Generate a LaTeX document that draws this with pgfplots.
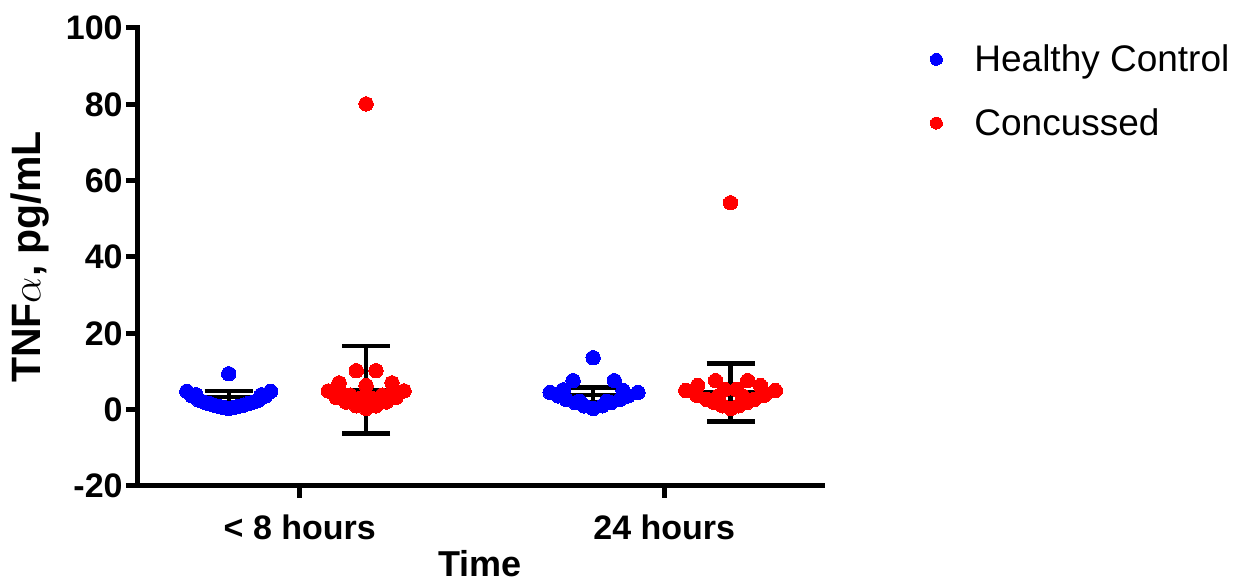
\documentclass[border=0pt]{standalone}
\usepackage{pgfplots}
\pgfplotsset{compat=1.18}
\usepackage{fontspec}
\setmainfont{Liberation Sans}
\definecolor{hcblue}{RGB}{0,0,255}
\definecolor{ccred}{RGB}{255,0,0}
\begin{document}
\begin{tikzpicture}
\useasboundingbox (-69pt,-48pt) rectangle (550pt,243pt);
\begin{axis}[
  at={(0pt,0pt)}, anchor=south west,
  scale only axis, width=342pt, height=229pt,
  xmin=0.556, xmax=2.433, ymin=-20, ymax=100,
  axis x line=bottom, axis y line=left,
  axis line style={-, line width=2.5pt, line cap=rect},
  ytick={-20,0,20,40,60,80,100},
  xtick={1,2}, xticklabels={{< 8 hours},{24 hours}},
  minor tick num=0,
  tick align=outside, major tick length=6pt,
  tick style={black, line width=2.5pt},
  /pgf/number format/assume math mode=true,
  tick label style={font=\fontsize{17}{20}\selectfont\bfseries},
  yticklabel style={inner sep=1.5pt},
  xticklabel style={inner sep=0pt, yshift=-8pt},
  xlabel={Time}, ylabel={TNF$\alpha$, pg/mL},
  label style={font=\fontsize{18}{21}\selectfont\bfseries},
  xlabel style={at={(axis description cs:0.5,0)}, anchor=center, inner sep=0pt, yshift=-39pt},
  ylabel style={at={(axis description cs:-0.158,0.5)}, anchor=center, font=\fontsize{20.5}{24}\selectfont\bfseries},
  legend style={draw=none, fill=none, at={(axis description cs:1,1)}, anchor=north west,
    xshift=53pt, yshift=-6pt, inner sep=0pt, nodes={inner sep=2pt},
    font=\fontsize{18.5}{21}\selectfont, row sep=13pt},
  legend cell align=left,
  legend image code/.code={\draw[#1, only marks, mark size=3pt] plot coordinates {(4pt,0pt)}; \path[draw=none, fill=none] (0pt,-3pt) rectangle (21pt,3pt);},
  clip=false,
]
% mean and SD
\addplot[forget plot, only marks, black, mark=-, mark size=22.5pt,
  mark options={line width=2.2pt, black},
  error bars/.cd, y dir=both, y explicit,
  error bar style={line width=2.2pt, black},
  error mark options={rotate=90, line width=2.2pt, black, mark size=12pt}]
  table[x=x, y=y, y error=e] {
x     y    e
0.805 3.3  1.6
1.182 5.2  11.45
1.805 3.9  1.9
2.182 4.5  7.6
};
% Healthy control
\addplot[only marks, mark=*, mark size=3.6pt, color=hcblue, mark options={fill=hcblue, draw=hcblue, line width=0pt}]
 coordinates {
 (0.805,9.4)
 (0.805,0.3)
 (0.791,0.6) (0.819,0.6)
 (0.778,0.9) (0.832,0.9)
 (0.764,1.2) (0.846,1.2)
 (0.750,1.6) (0.860,1.6)
 (0.737,2.0) (0.873,2.0)
 (0.723,2.5) (0.887,2.5)
 (0.704,3.6) (0.906,3.6)
 (0.690,4.8) (0.920,4.8)
 (0.715,3.9) (0.895,3.9)
 (1.805,13.6)
 (1.750,7.6) (1.863,7.6)
 (1.687,4.5) (1.928,4.5)
 (1.805,0.3)
 (1.780,1.0) (1.830,1.0)
 (1.756,1.8) (1.854,1.8)
 (1.731,2.7) (1.879,2.7)
 (1.709,3.6) (1.901,3.6)
 (1.723,5.2) (1.887,5.0)
 (1.768,2.2) (1.842,2.2)
 };
% Concussed
\addplot[only marks, mark=*, mark size=3.6pt, color=ccred, mark options={fill=ccred, draw=ccred, line width=0pt}]
 coordinates {
 (1.182,80.1)
 (1.155,10.2) (1.209,10.2)
 (1.182,6.3)
 (1.108,7.0) (1.253,7.0)
 (1.182,0.3)
 (1.155,1.0) (1.209,1.0)
 (1.127,2.0) (1.237,2.0)
 (1.100,3.2) (1.264,3.2)
 (1.078,4.9) (1.286,4.9)
 (1.166,3.0) (1.198,3.0)
 (1.138,3.8) (1.226,3.8)
 (1.111,4.6) (1.253,4.6)
 (2.182,54.2)
 (2.141,7.6) (2.229,7.6)
 (2.092,6.3) (2.264,6.3)
 (2.059,5.0) (2.305,5.0)
 (2.182,0.3)
 (2.160,1.0) (2.204,1.0)
 (2.138,1.8) (2.226,1.8)
 (2.116,2.7) (2.248,2.7)
 (2.089,3.8) (2.275,3.8)
 (2.166,5.3) (2.198,5.3)
 (2.149,3.6) (2.215,3.6)
 };
\legend{Healthy Control, Concussed}
\end{axis}
\end{tikzpicture}
\end{document}
